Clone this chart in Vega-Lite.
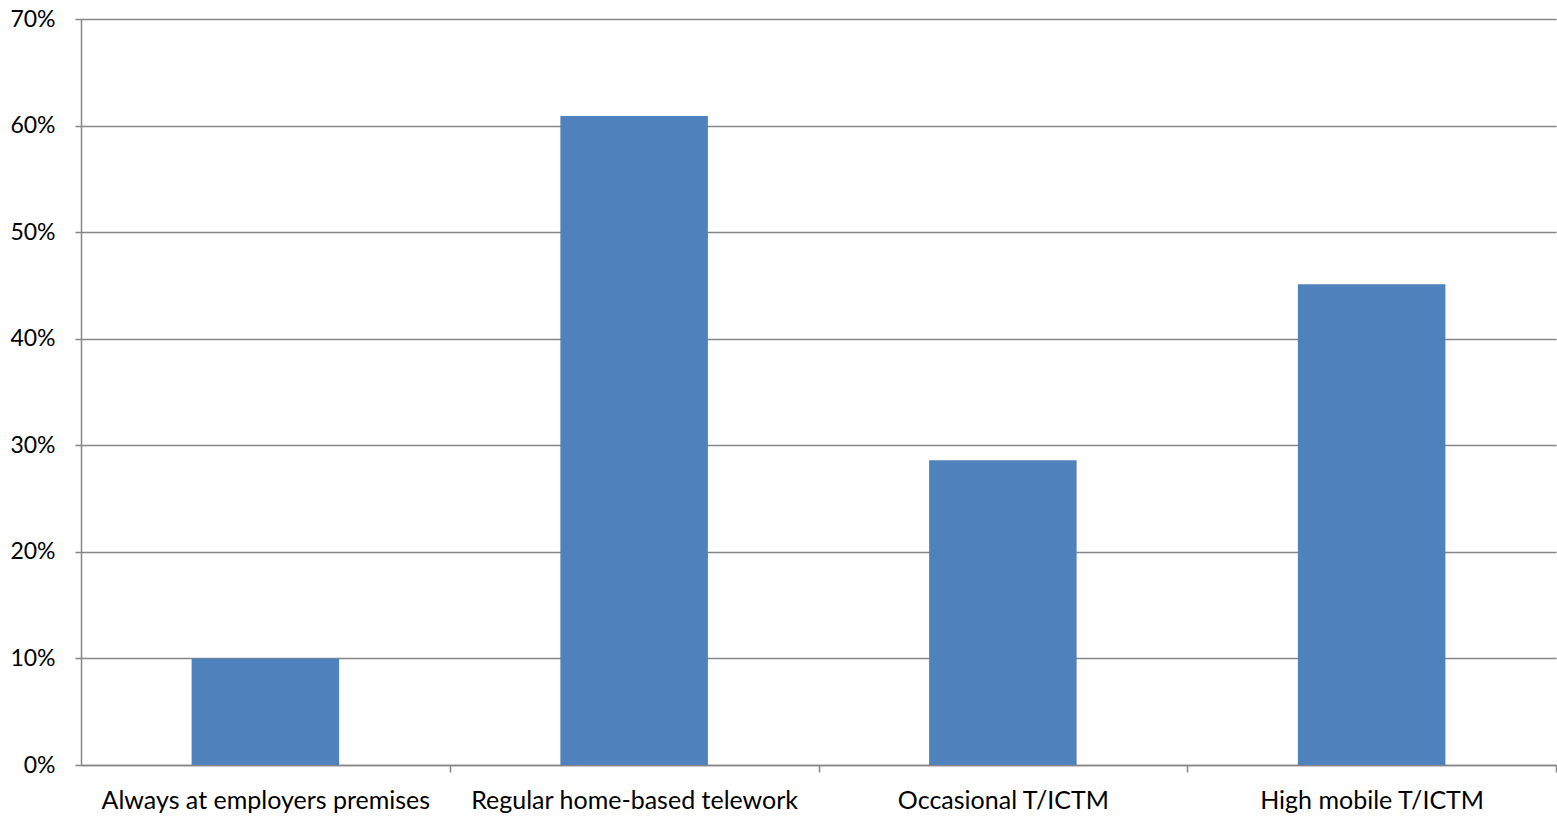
{
  "$schema": "https://vega.github.io/schema/vega-lite/v6.json",
  "width": 1475,
  "height": 746,
  "autosize": {"type": "none"},
  "padding": {"left": 81, "top": 19, "right": 1, "bottom": 56},
  "background": "white",
  "data": {"values": [
    {"category": "Always at employers premises", "share": 0.10},
    {"category": "Regular home-based telework", "share": 0.609},
    {"category": "Occasional T/ICTM", "share": 0.286},
    {"category": "High mobile T/ICTM", "share": 0.451}
  ]},
  "config": {
    "view": {"stroke": null},
    "font": "Lato",
    "axis": {"labelFont": "Lato", "labelColor": "#000000", "labelFontSize": 23, "labelLimit": 0, "domainColor": "#868686", "tickColor": "#868686", "gridColor": "#868686", "domainWidth": 1.5, "tickWidth": 1.5, "gridWidth": 1.5}
  },
  "mark": {"type": "bar", "color": "#4F81BD"},
  "encoding": {
    "x": {
      "field": "category", "type": "nominal", "sort": null, "title": null,
      "scale": {"paddingInner": 0.6, "paddingOuter": 0.3},
      "axis": {"labelAngle": 0, "labelFontSize": 25, "tickSize": 7, "tickOffset": 184.375, "labelOffset": -184.375, "labelPadding": 16, "grid": false}
    },
    "y": {
      "field": "share", "type": "quantitative", "title": null,
      "scale": {"domain": [0, 0.7]},
      "axis": {"format": ".0%", "values": [0, 0.1, 0.2, 0.3, 0.4, 0.5, 0.6, 0.7], "tickSize": 6, "labelPadding": 20, "grid": true}
    }
  }
}
